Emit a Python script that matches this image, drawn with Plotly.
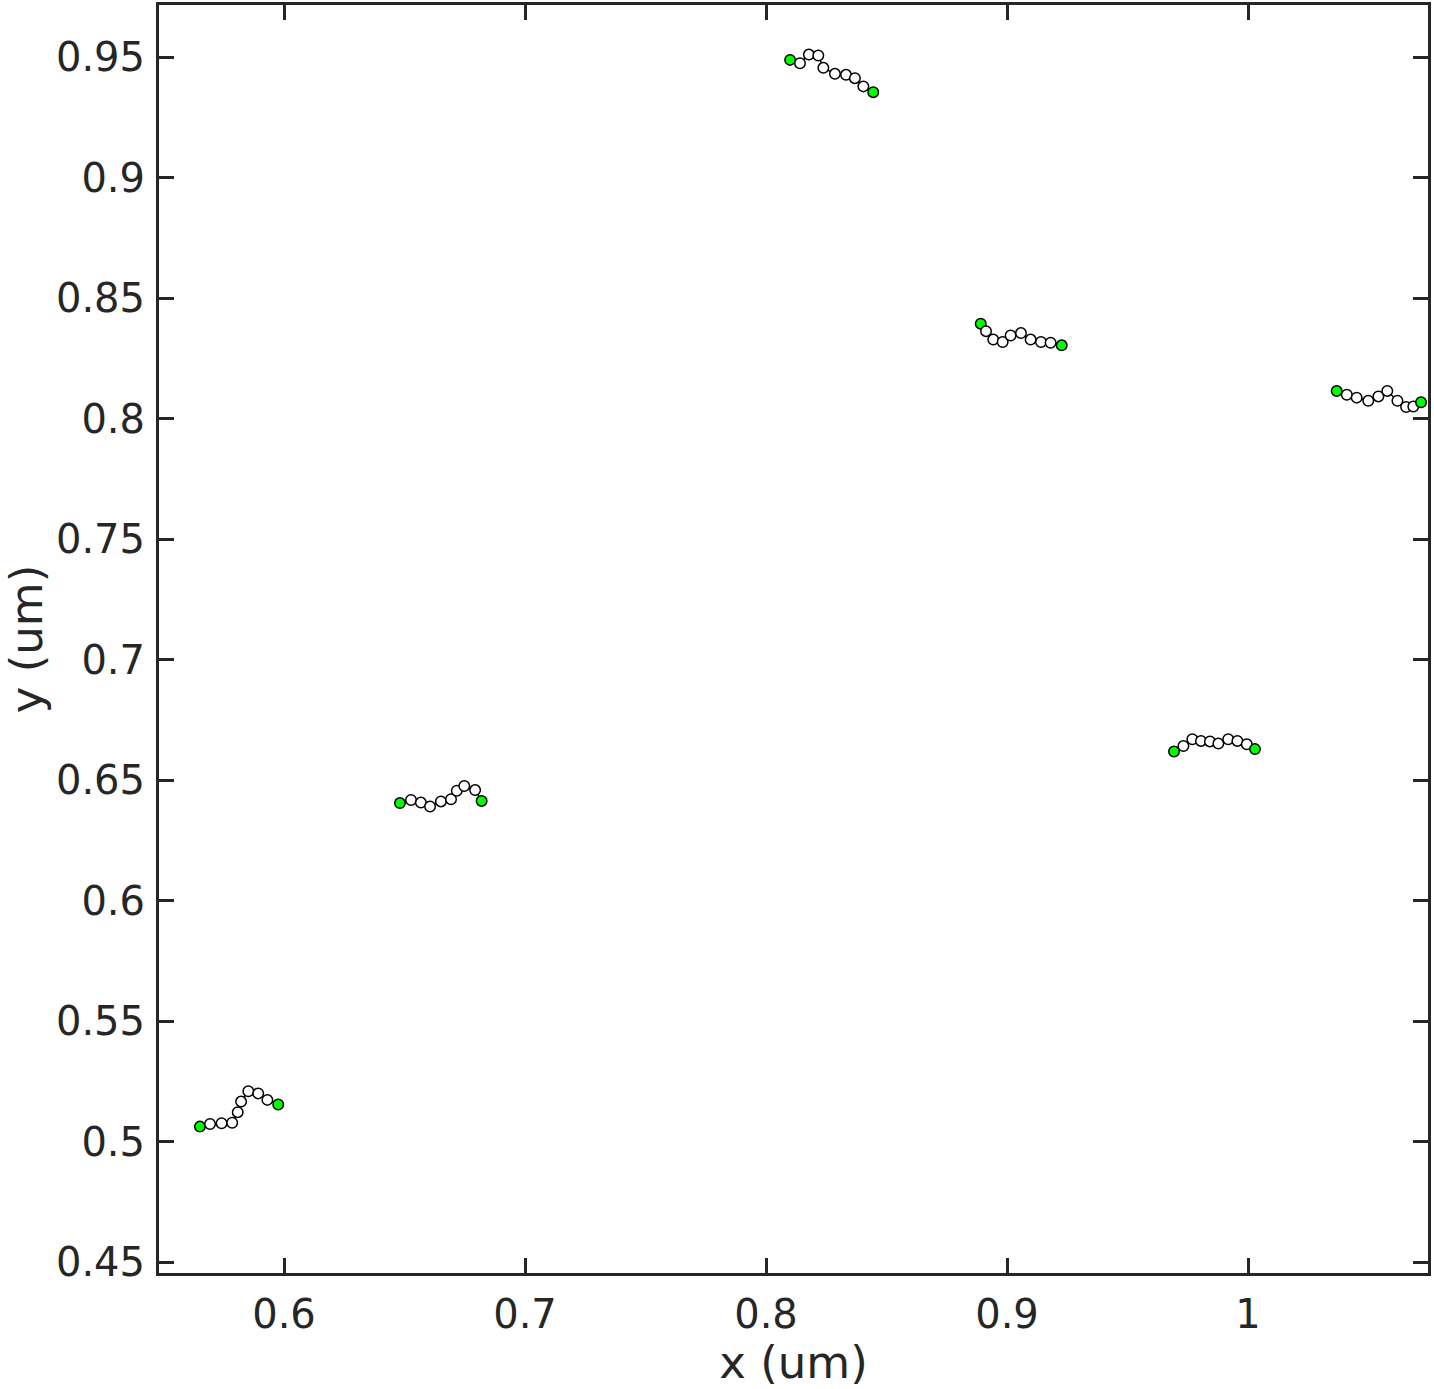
import plotly.graph_objects as go

chain1_x = [0.5651, 0.5693, 0.5741, 0.5785, 0.5808, 0.5822, 0.5852, 0.5893, 0.5931, 0.5976]
chain1_y = [0.5062, 0.5073, 0.5076, 0.5078, 0.5122, 0.5166, 0.5209, 0.5200, 0.5173, 0.5154]
chain2_x = [0.6481, 0.6527, 0.6568, 0.6606, 0.6651, 0.6693, 0.6717, 0.6748, 0.6793, 0.6820]
chain2_y = [0.6405, 0.6418, 0.6407, 0.6391, 0.6412, 0.6421, 0.6456, 0.6476, 0.6459, 0.6414]
chain3_x = [0.8100, 0.8141, 0.8178, 0.8217, 0.8238, 0.8286, 0.8332, 0.8369, 0.8404, 0.8445]
chain3_y = [0.9490, 0.9476, 0.9512, 0.9508, 0.9457, 0.9432, 0.9428, 0.9414, 0.9380, 0.9356]
chain4_x = [0.8891, 0.8913, 0.8943, 0.8982, 0.9015, 0.9058, 0.9098, 0.9141, 0.9181, 0.9227]
chain4_y = [0.8395, 0.8364, 0.8329, 0.8319, 0.8346, 0.8356, 0.8329, 0.8319, 0.8316, 0.8305]
chain5_x = [0.9693, 0.9732, 0.9769, 0.9805, 0.9842, 0.9877, 0.9918, 0.9956, 0.9995, 1.0029]
chain5_y = [0.6619, 0.6642, 0.6670, 0.6663, 0.6661, 0.6652, 0.6670, 0.6663, 0.6649, 0.6629]
chain6_x = [1.0368, 1.0410, 1.0451, 1.0499, 1.0541, 1.0578, 1.0620, 1.0656, 1.0686, 1.0718]
chain6_y = [0.8116, 0.8100, 0.8088, 0.8075, 0.8093, 0.8116, 0.8075, 0.8049, 0.8051, 0.8069]

x_tickvals = [0.6, 0.7, 0.8, 0.9, 1.0]
x_ticktext = ["0.6", "0.7", "0.8", "0.9", "1"]
y_tickvals = [0.45, 0.5, 0.55, 0.6, 0.65, 0.7, 0.75, 0.8, 0.85, 0.9, 0.95]
y_ticktext = ["0.45", "0.5", "0.55", "0.6", "0.65", "0.7", "0.75", "0.8", "0.85", "0.9", "0.95"]

chains = [(chain1_x, chain1_y), (chain2_x, chain2_y), (chain3_x, chain3_y),
          (chain4_x, chain4_y), (chain5_x, chain5_y), (chain6_x, chain6_y)]

fig = go.Figure()
for cx, cy in chains:
    n = len(cx)
    colors = ["#00FF00" if i in (0, n - 1) else "#FFFFFF" for i in range(n)]
    fig.add_trace(go.Scatter(
        x=cx, y=cy, mode="lines+markers",
        line=dict(color="black", width=1.5),
        marker=dict(size=10.5, color=colors, line=dict(color="black", width=1.5)),
        showlegend=False, cliponaxis=False,
    ))

axis_common = dict(
    showline=True, linecolor="#262626", linewidth=3, mirror="ticks",
    ticks="inside", ticklen=15, tickwidth=3, tickcolor="#262626",
    showgrid=False, zeroline=False, automargin=False,
    tickfont=dict(family="DejaVu Sans", size=40, color="#262626"),
)
title_font = dict(family="DejaVu Sans", size=45, color="#262626")

fig.update_layout(
    width=1434, height=1389,
    margin=dict(l=159, r=6, t=5, b=116),
    plot_bgcolor="white", paper_bgcolor="white",
    xaxis=dict(range=[0.54813, 1.07469], tickvals=x_tickvals, ticktext=x_ticktext,
               ticklabelstandoff=4,
               title=dict(text="x (um)", font=title_font, standoff=8),
               **axis_common),
    yaxis=dict(range=[0.44544, 0.97178], tickvals=y_tickvals, ticktext=y_ticktext,
               ticklabelstandoff=3,
               title=dict(text="y (um)", font=title_font, standoff=12),
               **axis_common),
)

fig.write_html("out.html", config={"displayModeBar": False},
               post_script="document.body.style.margin='0px';")
